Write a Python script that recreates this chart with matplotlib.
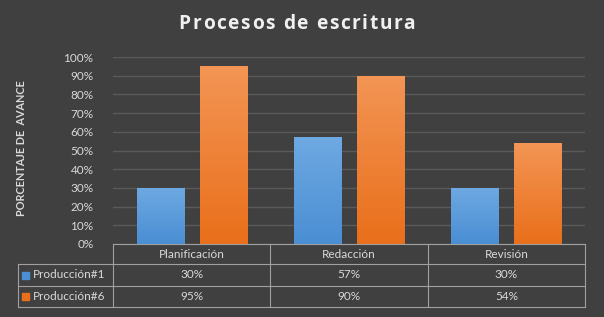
import matplotlib
matplotlib.use("Agg")
import matplotlib.pyplot as plt
import numpy as np
from matplotlib.colors import LinearSegmentedColormap
from matplotlib.textpath import TextPath
from matplotlib.font_manager import FontProperties

categories = ["Planificación", "Redacción", "Revisión"]
series_names = ["Producción#1", "Producción#6"]
prod1 = [30, 57, 30]
prod6 = [95, 90, 54]
yticks = [0, 10, 20, 30, 40, 50, 60, 70, 80, 90, 100]
title = "Procesos de escritura"

BG = "#404040"
TXT = "#d9d9d9"
GRID = "#5a5a5a"
LINE = "#a0a0a0"
blue_top, blue_bot = "#6ea9e2", "#4a8ed3"
orng_top, orng_bot = "#f39555", "#e96f1a"

plt.rcParams['font.family'] = ['Lato', 'DejaVu Sans']

W, H = 604, 317
fig = plt.figure(figsize=(W / 100, H / 100), dpi=100, facecolor=BG)

def fx(px):
    return px / W
def fy(py):
    return 1 - py / H

x_left, x_right = 113, 585
y_top, y_bot = 57, 244
ax = fig.add_axes([fx(x_left), fy(y_bot), fx(x_right) - fx(x_left), fy(y_top) - fy(y_bot)])
ax.set_facecolor(BG)
for s in ax.spines.values():
    s.set_visible(False)
ax.set_yticks(yticks)
ax.set_yticklabels([f"{v}%" for v in yticks], color=TXT, fontsize=8.5)
ax.tick_params(axis='y', length=0, pad=14)
ax.set_xticks([])
ax.yaxis.grid(True, color=GRID, linewidth=1)
ax.set_axisbelow(True)

x = np.arange(len(categories))
bw = 0.3
off = 0.2
grad = np.linspace(1, 0, 256).reshape(-1, 1)
for vals, dx, (top, bot) in [(prod1, -off, (blue_top, blue_bot)), (prod6, off, (orng_top, orng_bot))]:
    bars = ax.bar(x + dx, vals, width=bw, color=bot, edgecolor="#353535", linewidth=0.8, zorder=2)
    cmap = LinearSegmentedColormap.from_list("g", [bot, top])
    for b in bars:
        x0, y0 = b.get_x(), b.get_y()
        im = ax.imshow(grad, cmap=cmap, aspect='auto',
                       extent=[x0, x0 + b.get_width(), y0, y0 + b.get_height()], zorder=3)
        im.set_clip_path(b)
ax.set_xlim(-0.5, len(categories) - 0.5)
ax.set_ylim(0, 100)

# letter-spaced title
tfont = FontProperties(family='Open Sans', weight='bold', size=13.8)
spacing = 1.6  # px between letters
widths = []
for ch in title:
    if ch == " ":
        widths.append(TextPath((0, 0), "a a", prop=tfont).get_extents().width
                      - TextPath((0, 0), "aa", prop=tfont).get_extents().width)
    else:
        widths.append(TextPath((0, 0), "|" + ch + "|", prop=tfont).get_extents().width
                      - TextPath((0, 0), "||", prop=tfont).get_extents().width)
widths = [w * 100 / 72 for w in widths]
total = sum(widths) + spacing * (len(title) - 1)
cx = 297 - total / 2
for ch, w in zip(title, widths):
    if ch != " ":
        fig.text(fx(cx), fy(24), ch, ha='left', va='center', color="#f0f0f0", fontproperties=tfont)
    cx += w + spacing

# y label
fig.text(fx(22), fy(148), "PORCENTAJE DE  AVANCE", rotation=90, ha='center', va='center',
         color=TXT, fontsize=7.8, fontweight='bold')

# data table
row_y = [244, 264, 286, 307]
col_x = [x_left + (x_right - x_left) * i / len(categories) for i in range(len(categories) + 1)]
lab_x0 = 18
def hline(x0, x1, y):
    fig.add_artist(plt.Line2D([fx(x0), fx(x1)], [fy(y), fy(y)], color=LINE, linewidth=0.8))
def vline(xp, y0, y1):
    fig.add_artist(plt.Line2D([fx(xp), fx(xp)], [fy(y0), fy(y1)], color=LINE, linewidth=0.8))

hline(col_x[0], col_x[-1], row_y[0])
for yy in row_y[1:]:
    hline(lab_x0, col_x[-1], yy)
for xx in col_x:
    vline(xx, row_y[0], row_y[-1])
vline(lab_x0, row_y[1], row_y[-1])

for i, c in enumerate(categories):
    fig.text(fx((col_x[i] + col_x[i + 1]) / 2), fy((row_y[0] + row_y[1]) / 2), c,
             ha='center', va='center', color=TXT, fontsize=8.5)
for r, (name, vals, col) in enumerate([(series_names[0], prod1, blue_bot), (series_names[1], prod6, orng_bot)]):
    yc = (row_y[r + 1] + row_y[r + 2]) / 2
    fig.patches.append(plt.Rectangle((fx(22), fy(yc + 3.5)), fx(7), 7 / H, color=col, transform=fig.transFigure))
    fig.text(fx(33), fy(yc), name, ha='left', va='center', color=TXT, fontsize=8.5)
    for i, v in enumerate(vals):
        fig.text(fx((col_x[i] + col_x[i + 1]) / 2), fy(yc), f"{v}%", ha='center', va='center',
                 color=TXT, fontsize=8.5)

fig.savefig("out.png", dpi=100, facecolor=BG)
